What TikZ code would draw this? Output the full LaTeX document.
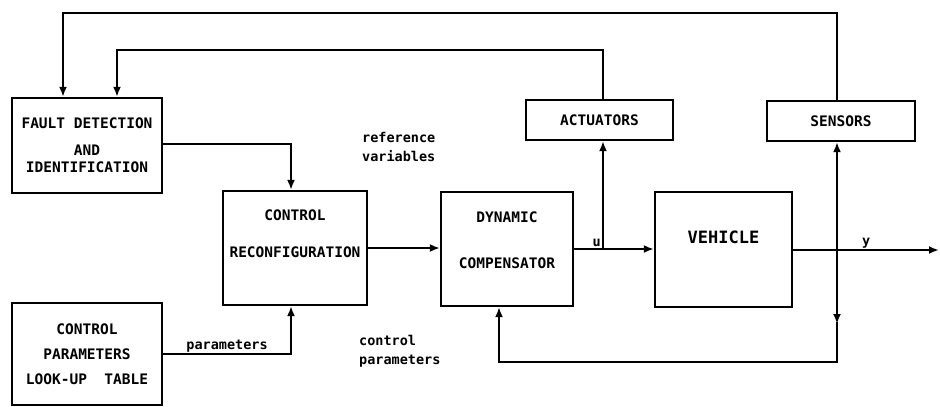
\documentclass[tikz,border=0pt]{standalone}
\usepackage{fontspec}
\usepackage{tikz}
\usetikzlibrary{arrows.meta, positioning}
\newfontfamily\diagfont{DejaVu Sans Mono}

\begin{document}
\begin{tikzpicture}[x=1pt, y=-1pt,
		blk/.style={draw, line width=2.3pt, align=center, inner sep=0pt, font=\diagfont\bfseries\fontsize{14.5}{17}\selectfont},
		lbl/.style={align=left, inner sep=1pt, font=\diagfont\bfseries\fontsize{13.5}{17}\selectfont},
		wire/.style={line width=2.3pt},
		arr/.style={wire, -{Latex[length=10pt,width=8pt]}}]
		\useasboundingbox (0,0) rectangle (940,407);
		\node[blk, minimum width=150, minimum height=95] (fdi) at (87,145.5) {FAULT DETECTION\\[10pt]AND\\IDENTIFICATION};
		\node[blk, minimum width=150, minimum height=102] (lut) at (87,354) {CONTROL\\[8pt]PARAMETERS\\[8pt]LOOK-UP~~TABLE};
		\node[blk, minimum width=144, minimum height=114] (crb) at (295,248) {CONTROL\\[20pt]RECONFIGURATION\\[12pt]\mbox{}};
		\node[blk, minimum width=132, minimum height=114] (dyn) at (507,249) {DYNAMIC\\[29pt]COMPENSATOR\\[1pt]\mbox{}};
		\node[blk, minimum width=137, minimum height=115, font=\diagfont\bfseries\fontsize{17}{20}\selectfont] (veh) at (723.5,249.5) {VEHICLE\\[5pt]\mbox{}};
		\node[blk, minimum width=147, minimum height=40] (act) at (599.5,120) {ACTUATORS};
		\node[blk, minimum width=148, minimum height=40] (sen) at (841,121) {SENSORS};
		\node[lbl, anchor=west] (refv) at (361,147) {reference\\[2pt]variables};
		\node[lbl, anchor=west] (ctlp) at (358,351) {control\\[2pt]parameters};
		\coordinate (ujn) at (603,249);
		\coordinate (yjn) at (837,250);
		\coordinate (yout) at (939,250);
		\draw[arr] ([yshift=1.5pt]fdi.east) -| ([xshift=-4pt]crb.north);
		\draw[arr] (lut.east) -| ([xshift=-4pt]crb.south) node[pos=0.25, above, lbl] {parameters};
		\draw[arr] (crb.east) -- (crb.east -| dyn.west);
		\draw[wire] (dyn.east) -- (ujn) node[above left, lbl] {u};
		\draw[arr] (ujn) -- (ujn -| veh.west);
		\draw[arr] (ujn) -- (ujn |- act.south);
		\draw[arr] (ujn |- act.north) |- (117,50) -- ([xshift=30pt]fdi.north);
		\draw[arr] (veh.east |- yout) -- (yout) node[midway, above, lbl] {y};
		\draw[arr] (yjn) -- (yjn |- sen.south);
		\draw[arr] (yjn |- sen.north) |- (63,13) -- ([xshift=-24pt]fdi.north);
		\draw[arr] (yjn) -- (837,324);
		\draw[arr] (837,322) |- (499,362) -- ([xshift=-8pt]dyn.south);
	\end{tikzpicture}
\end{document}
